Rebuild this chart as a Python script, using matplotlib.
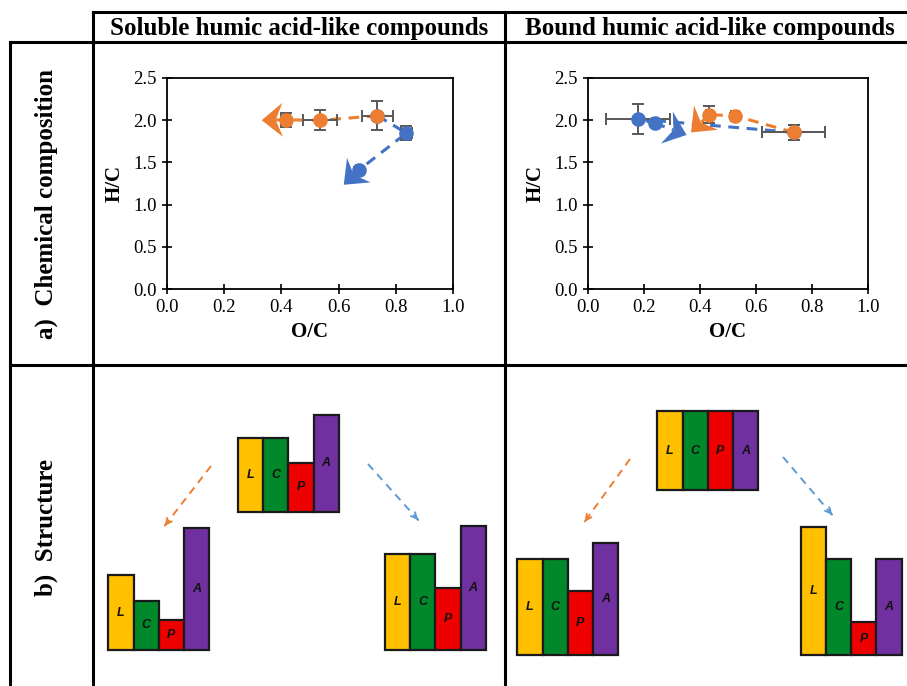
import numpy as np
import matplotlib
matplotlib.use("Agg")
import matplotlib.pyplot as plt
from matplotlib.patches import Polygon

# ---- H/C vs O/C data (van Krevelen) ----
# soluble humic acid-like compounds
sol_or_x = [0.736, 0.536, 0.415]
sol_or_y = [2.053, 1.998, 2.005]
sol_or_xerr = [0.053, 0.060, 0.015]
sol_or_yerr = [0.17, 0.12, 0.08]
sol_or_tip = (0.331, 2.00)

sol_bl_x = [0.736, 0.837, 0.672]
sol_bl_y = [2.053, 1.847, 1.412]
sol_bl_xerr = [0.0, 0.020, 0.010]
sol_bl_yerr = [0.0, 0.080, 0.030]
sol_bl_tip = (0.618, 1.235)

# bound humic acid-like compounds
bnd_or_x = [0.735, 0.524, 0.432]
bnd_or_y = [1.855, 2.053, 2.065]
bnd_or_xerr = [0.112, 0.015, 0.010]
bnd_or_yerr = [0.085, 0.030, 0.100]
bnd_or_tip = (0.368, 1.855)

bnd_bl_x = [0.735, 0.179, 0.238]
bnd_bl_y = [1.855, 2.013, 1.966]
bnd_bl_xerr = [0.112, 0.115, 0.010]
bnd_bl_yerr = [0.085, 0.180, 0.030]
bnd_bl_tip = (0.352, 1.825)

ticks_x = [0.0, 0.2, 0.4, 0.6, 0.8, 1.0]
ticks_y = [0.0, 0.5, 1.0, 1.5, 2.0, 2.5]

# ---- structure bars (relative heights of L, C, P, A) ----
struct_labels = ["L", "C", "P", "A"]
struct_colors = ["#FFC000", "#00882B", "#EE0000", "#7030A0"]
sol_init = [74, 74, 49, 97]
sol_left = [75, 49, 30, 122]
sol_right = [96, 96, 62, 124]
bnd_init = [79, 79, 79, 79]
bnd_left = [96, 96, 64, 112]
bnd_right = [128, 96, 33, 96]

ORANGE = "#ED7D31"
BLUE = "#4472C4"
LBLUE = "#5B9BD5"
SERIF = "Liberation Serif"

fig = plt.figure(figsize=(9.07, 6.86), dpi=100)

# overlay in pixel coordinates for the table and the structure sketches
ov = fig.add_axes([0, 0, 1, 1])
ov.set_xlim(0, 907)
ov.set_ylim(686, 0)
ov.axis("off")

lw_tab = 2.2
ov.plot([93, 907], [12, 12], color="black", lw=lw_tab)
ov.plot([10, 907], [42, 42], color="black", lw=lw_tab)
ov.plot([10, 907], [365, 365], color="black", lw=lw_tab)
ov.plot([10, 10], [42, 686], color="black", lw=lw_tab)
ov.plot([93, 93], [12, 686], color="black", lw=lw_tab)
ov.plot([505, 505], [12, 686], color="black", lw=lw_tab)

ov.text(299, 28, "Soluble humic acid-like compounds", ha="center", va="center",
        family=SERIF, weight="bold", fontsize=18)
ov.text(710, 28, "Bound humic acid-like compounds", ha="center", va="center",
        family=SERIF, weight="bold", fontsize=18)
ov.text(46, 204, "a)  Chemical composition", ha="center", va="center",
        rotation=90, family=SERIF, weight="bold", fontsize=18)
ov.text(46, 527, "b)  Structure", ha="center", va="center",
        rotation=90, family=SERIF, weight="bold", fontsize=18)


def bar_group(x0, base, heights):
    xs = x0 + 25.2 * np.arange(4)
    ov.bar(xs, [-h for h in heights], bottom=base, width=25.2, align="edge",
           color=struct_colors, edgecolor="#1a1a1a", linewidth=1.6)
    for xx, h, lab in zip(xs, heights, struct_labels):
        ov.text(xx + 12.6, base - h / 2, lab, ha="center", va="center",
                fontsize=9, weight="bold", style="italic",
                family="Liberation Sans", color="#111111")


bar_group(238, 511.7, sol_init)
bar_group(108.3, 650, sol_left)
bar_group(385, 650, sol_right)
bar_group(657.3, 490, bnd_init)
bar_group(517.3, 655, bnd_left)
bar_group(800.7, 655, bnd_right)


def dash_arrow(p0, p1, color):
    ov.plot([p0[0], p1[0]], [p0[1], p1[1]], color=color, lw=1.4,
            dashes=(4, 3))
    d = np.array(p1) - np.array(p0)
    d = d / np.hypot(*d)
    ov.annotate("", xy=p1, xytext=(p1[0] - 6 * d[0], p1[1] - 6 * d[1]),
                arrowprops=dict(arrowstyle="->", color=color, lw=1.4,
                                mutation_scale=10))


dash_arrow((211, 466), (163, 528), ORANGE)
dash_arrow((368, 464), (420, 522), LBLUE)
dash_arrow((630, 459), (583, 524), ORANGE)
dash_arrow((783, 457), (834, 517), LBLUE)


def stealth(ax, tail, tip, color, L=21, W=17, notch=7):
    t0 = ax.transData.transform(tail)
    t1 = ax.transData.transform(tip)
    d = (t1 - t0) / np.hypot(*(t1 - t0))
    n = np.array([-d[1], d[0]])
    pts = np.array([t1, t1 - L * d + W * n, t1 - (L - notch) * d,
                    t1 - L * d - W * n])
    pts = ax.transData.inverted().transform(pts)
    ax.add_patch(Polygon(pts, closed=True, facecolor=color, edgecolor="none",
                         zorder=6))
    base = ax.transData.inverted().transform(t1 - (L - notch) * d)
    ax.plot([tail[0], base[0]], [tail[1], base[1]], color=color, lw=2.2,
            dashes=(3.5, 2.5), zorder=3)


def style_axes(ax):
    ax.set_xlim(0, 1)
    ax.set_ylim(0, 2.5)
    ax.set_xticks(ticks_x)
    ax.set_yticks(ticks_y)
    ax.set_xticklabels([f"{t:.1f}" for t in ticks_x], family=SERIF, fontsize=13.5)
    ax.set_yticklabels([f"{t:.1f}" for t in ticks_y], family=SERIF, fontsize=13.5)
    ax.tick_params(direction="inout", length=7, width=1.2, color="black", pad=4)
    for s in ax.spines.values():
        s.set_linewidth(1.3)
    ax.set_xlabel("O/C", family=SERIF, weight="bold", fontsize=15, labelpad=4)
    ax.set_ylabel("H/C", family=SERIF, weight="bold", fontsize=15, labelpad=6)


def series(ax, x, y, xerr, yerr, color):
    ax.errorbar(x, y, xerr=xerr, yerr=yerr, fmt="none", ecolor="#595959",
                elinewidth=1.4, capsize=4, capthick=1.4, zorder=4)
    ax.plot(x, y, color=color, lw=2.2, dashes=(3.5, 2.5), zorder=3)
    ax.plot(x, y, "o", color=color, markersize=9.5, zorder=5)


# soluble
ax1 = fig.add_axes([167 / 907, 1 - 289 / 686, 286 / 907, 211 / 686])
style_axes(ax1)
series(ax1, sol_bl_x, sol_bl_y, sol_bl_xerr, sol_bl_yerr, BLUE)
series(ax1, sol_or_x, sol_or_y, sol_or_xerr, sol_or_yerr, ORANGE)
stealth(ax1, (sol_bl_x[-1], sol_bl_y[-1]), sol_bl_tip, BLUE)
stealth(ax1, (sol_or_x[-1], sol_or_y[-1]), sol_or_tip, ORANGE)

# bound
ax2 = fig.add_axes([588 / 907, 1 - 289 / 686, 280 / 907, 211 / 686])
style_axes(ax2)
series(ax2, bnd_bl_x, bnd_bl_y, bnd_bl_xerr, bnd_bl_yerr, BLUE)
stealth(ax2, (bnd_bl_x[-1], bnd_bl_y[-1]), bnd_bl_tip, BLUE)
series(ax2, bnd_or_x, bnd_or_y, bnd_or_xerr, bnd_or_yerr, ORANGE)
stealth(ax2, (bnd_or_x[-1], bnd_or_y[-1]), bnd_or_tip, ORANGE)

fig.savefig("out.png", dpi=100)
